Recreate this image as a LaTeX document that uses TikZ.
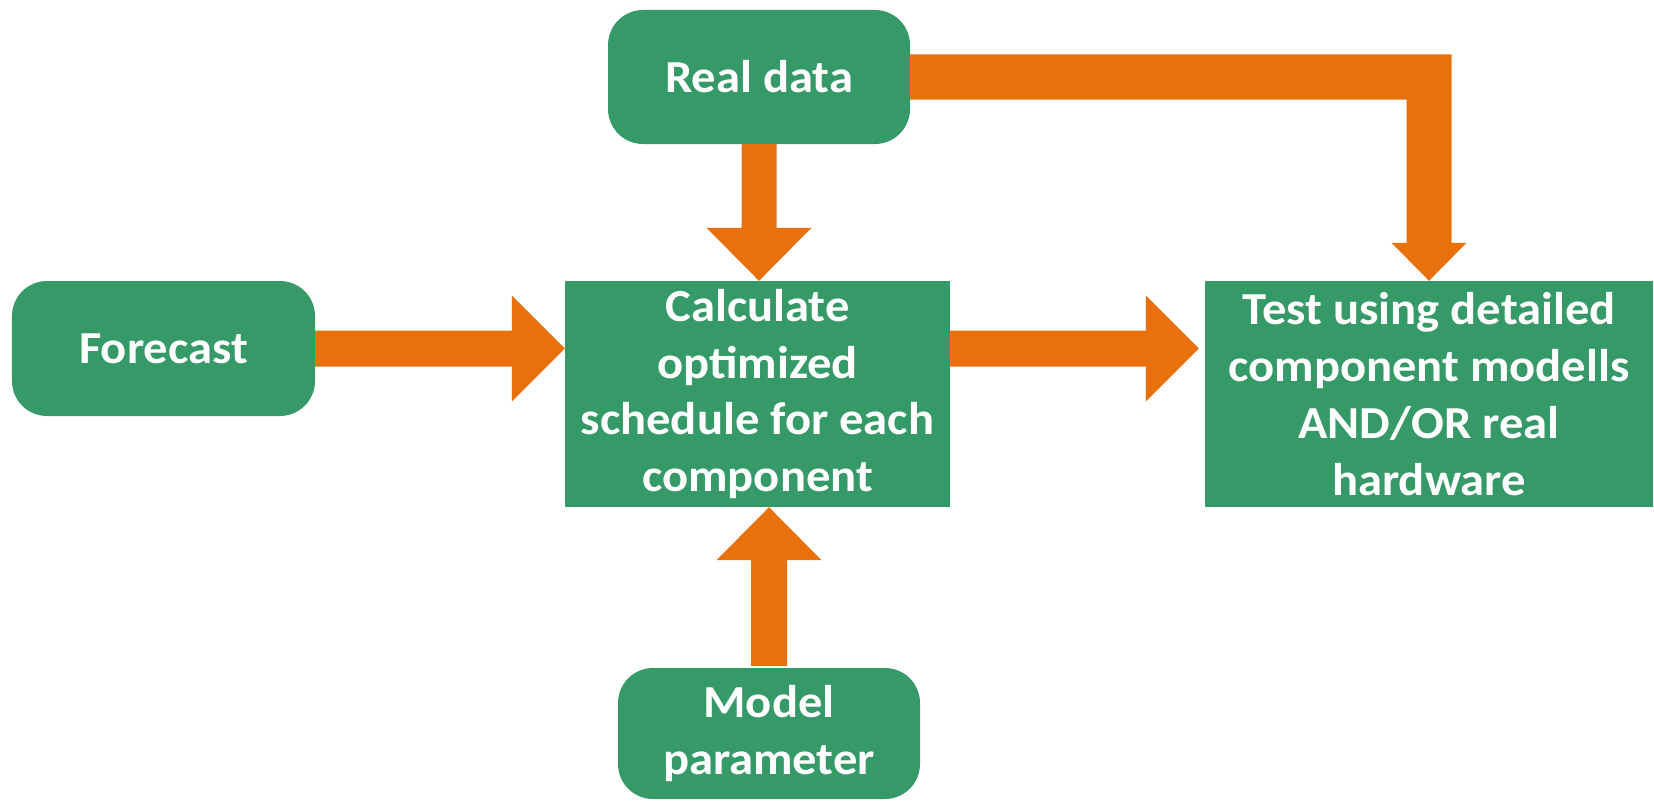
\documentclass[tikz,border=0pt]{standalone}
\usepackage{fontspec}
\setmainfont{Carlito}[FakeStretch=1.06]
\usetikzlibrary{calc}
\definecolor{boxgreen}{RGB}{53,154,104}
\definecolor{arrorange}{RGB}{233,113,13}
\begin{document}
\begin{tikzpicture}[x=1bp,y=-1bp,
  base/.style={fill=boxgreen,draw=none,text=white,align=center,inner sep=0pt,
    font=\bfseries\fontsize{46}{57}\selectfont},
  roundbox/.style={base,rounded corners=35bp},
  squarebox/.style={base},
  arr/.style={fill=arrorange,draw=none}]
\useasboundingbox (0,0) rectangle (1654,802);

% blocks
\node[roundbox,minimum width=302bp,minimum height=134bp] (real) at (759,77) {Real data};
\node[roundbox,minimum width=303bp,minimum height=135bp] (fc) at (163.5,348.5) {Forecast};
\node[squarebox,minimum width=385bp,minimum height=226bp] (calc) at (757.5,394)
  {Calculate\\optimized\\schedule for each\\component};
\node[squarebox,minimum width=448bp,minimum height=226bp] (test) at (1429,394)
  {Test using detailed\\component modells\\AND/OR real\\hardware};
\node[roundbox,minimum width=302bp,minimum height=131bp] (model) at (769,733.5)
  {Model\\parameter};

% Forecast -> Calculate
\coordinate (ftip) at (calc.west |- fc.east);
\fill[arr] ($(fc.east)+(0,-18)$) -- ($(ftip)+(-53,-18)$) -- ($(ftip)+(-53,-53)$)
  -- (ftip) -- ($(ftip)+(-53,53)$) -- ($(ftip)+(-53,18)$)
  -- ($(fc.east)+(0,18)$) -- cycle;

% Calculate -> Test
\coordinate (tbase) at (calc.east |- fc.east);
\coordinate (ttip) at ($(test.west |- fc.east)+(-6,0)$);
\fill[arr] ($(tbase)+(0,-18)$) -- ($(ttip)+(-53,-18)$) -- ($(ttip)+(-53,-53)$)
  -- (ttip) -- ($(ttip)+(-53,53)$) -- ($(ttip)+(-53,18)$)
  -- ($(tbase)+(0,18)$) -- cycle;

% Real data -> Calculate
\coordinate (dtip) at (real.south |- calc.north);
\fill[arr] ($(real.south)+(-17.5,0)$) -- ($(dtip)+(-17.5,-53)$) -- ($(dtip)+(-52.5,-53)$)
  -- (dtip) -- ($(dtip)+(52.5,-53)$) -- ($(dtip)+(17.5,-53)$)
  -- ($(real.south)+(17.5,0)$) -- cycle;

% Model parameter -> Calculate
\coordinate (utip) at (model.north |- calc.south);
\fill[arr] ($(model.north)+(-18,-2)$) -- ($(utip)+(-18,53)$) -- ($(utip)+(-52.5,53)$)
  -- (utip) -- ($(utip)+(52.5,53)$) -- ($(utip)+(18,53)$)
  -- ($(model.north)+(18,-2)$) -- cycle;

% Real data -> Test (elbow)
\coordinate (etip) at (test.north);
\coordinate (ecorner) at (etip |- real.east);
\fill[arr] ($(real.east)+(0,-22.5)$) -- ($(ecorner)+(22.5,-22.5)$)
  -- ($(etip)+(22.5,-38)$) -- ($(etip)+(37.5,-38)$) -- (etip)
  -- ($(etip)+(-37.5,-38)$) -- ($(etip)+(-22.5,-38)$)
  -- ($(ecorner)+(-22.5,22.5)$) -- ($(real.east)+(0,22.5)$) -- cycle;
\end{tikzpicture}
\end{document}
